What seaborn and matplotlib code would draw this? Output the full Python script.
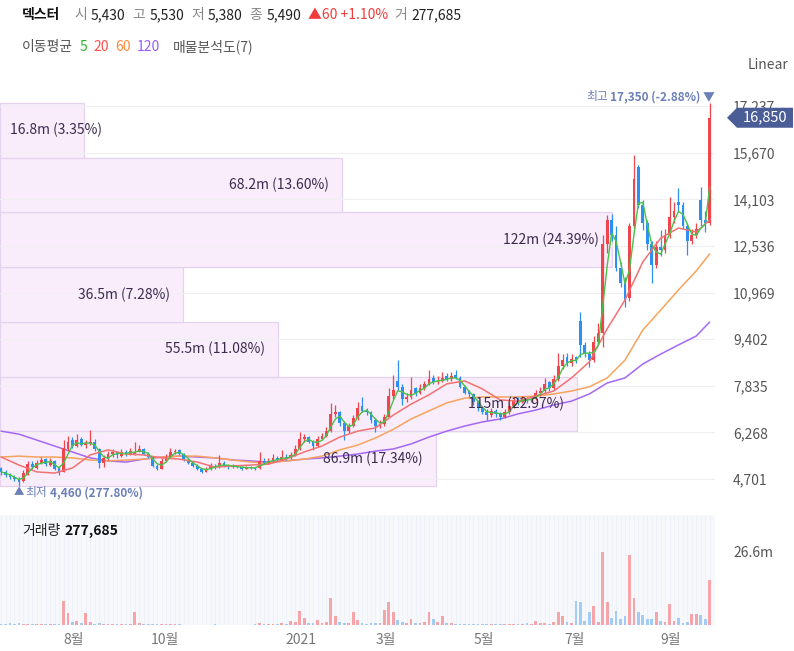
import numpy as np
import pandas as pd
import matplotlib
matplotlib.use('Agg')
import matplotlib.pyplot as plt
import matplotlib.transforms as mtransforms
from matplotlib.patches import Rectangle, Polygon
import seaborn as sns

# ---- header / legend text ----
STOCK_NAME = '덱스터'
HEADER_KEYS = ['시', '고', '저', '종']
HEADER_VALUES = ['5,430', '5,530', '5,380', '5,490']
HEADER_CHANGE = '▲60 +1.10%'
HEADER_VOL_KEY = '거'
HEADER_VOL = '277,685'
MA_TITLE = '이동평균'
MA_PERIODS = ['5', '20', '60', '120']
PROFILE_TITLE = '매물분석도(7)'
VOLUME_TITLE = '거래량'

# ---- trading calendar (KRX closed days) ----
START_DATE = '2020-06-17'
N_DAYS = 320
KR_HOLIDAYS = ['2020-08-17', '2020-09-30', '2020-10-01', '2020-10-02', '2020-10-09',
               '2020-12-25', '2020-12-31', '2021-01-01', '2021-02-11', '2021-02-12',
               '2021-03-01', '2021-05-05', '2021-05-19', '2021-08-16', '2021-09-20',
               '2021-09-21', '2021-09-22']
TICK_MONTHS = ['2020-08', '2020-10', '2021-01', '2021-03', '2021-05', '2021-07', '2021-09']

# ---- candles, one per two trading days ----
opens = [5070, 4950, 4830, 4760, 4700, 4620, 4850, 5220, 5080, 5230,
         5380, 5180, 5300, 5080, 4950, 5700, 6000, 5800, 6050, 5850,
         5900, 5950, 5700, 5250, 5380, 5550, 5620, 5480, 5620, 5530,
         5550, 5620, 5720, 5550, 5450, 5150, 5050, 5300, 5450, 5600,
         5680, 5550, 5350, 5250, 5150, 5050, 4950, 5050, 5150, 5100,
         5250, 5150, 5100, 5150, 5100, 5050, 5100, 5080, 5060, 5300,
         5250, 5300, 5400, 5350, 5450, 5400, 5500, 5700, 6050, 6100,
         5950, 5800, 6050, 6150, 6300, 6900, 6950, 6600, 6300, 6500,
         6750, 7150, 7000, 6950, 6700, 6500, 6550, 6800, 7500, 8000,
         7800, 7400, 7450, 7750, 7600, 7750, 7900, 8100, 7950, 8000,
         8150, 8050, 8200, 8100, 7800, 7650, 7550, 7300, 7100, 6950,
         6850, 7000, 6900, 6800, 6950, 7150, 7400, 7300, 7400, 7350,
         7400, 7600, 7650, 7950, 7750, 8050, 8500, 8800, 8600, 8800,
         10000, 9200, 8900, 8700, 9300, 9600, 12600, 13400, 12900, 11800,
         11300, 10800, 13200, 15200, 13900, 13300, 12600, 11900, 12500, 12400,
         12900, 13500, 14000, 13900, 13200, 12700, 12900, 14100, 13400, 13300]
highs = [5100, 5000, 4900, 4850, 4780, 5000, 5300, 5300, 5350, 5450,
         5420, 5400, 5330, 5100, 6000, 6150, 6100, 6200, 6100, 6000,
         6350, 6050, 5750, 5500, 5650, 5700, 5650, 5700, 5680, 5750,
         5950, 5850, 5750, 5600, 5480, 5200, 5400, 5550, 5740, 5720,
         5700, 5580, 5400, 5300, 5200, 5080, 5100, 5250, 5200, 5510,
         5300, 5180, 5200, 5180, 5130, 5150, 5150, 5120, 5610, 5400,
         5400, 5550, 5480, 5680, 5550, 5600, 5850, 6280, 6200, 6150,
         6000, 6150, 6250, 6450, 7260, 7200, 7000, 6650, 6600, 6850,
         7300, 7460, 7100, 7000, 6750, 6700, 6900, 7760, 8200, 8700,
         7900, 7600, 8130, 7800, 7900, 8000, 8370, 8200, 8150, 8300,
         8250, 8300, 8350, 8150, 7850, 7700, 7600, 7350, 7150, 7050,
         7100, 7050, 6950, 7050, 7300, 7450, 7450, 7500, 7450, 7500,
         7700, 7800, 8100, 8000, 8200, 8940, 8900, 8950, 8900, 8850,
         10320, 9300, 9000, 9500, 9950, 12900, 13580, 13600, 13200, 12000,
         11500, 13310, 15600, 15250, 14100, 13400, 12700, 12700, 13070, 13100,
         14180, 14000, 14490, 14000, 13300, 13100, 13300, 14520, 13700, 17350]
lows = [4840, 4780, 4700, 4620, 4460, 4600, 4820, 5050, 5050, 5200,
        5150, 5150, 5000, 4830, 4930, 5650, 5750, 5780, 5800, 5750,
        5850, 5650, 5070, 5100, 5350, 5450, 5400, 5450, 5480, 5500,
        5500, 5600, 5500, 5400, 5100, 5000, 5030, 5280, 5420, 5550,
        5500, 5300, 5200, 5100, 5000, 4900, 4920, 5020, 5050, 5080,
        5100, 5050, 5070, 5060, 5000, 5030, 5040, 5000, 5050, 5200,
        5220, 5280, 5300, 5330, 5350, 5380, 5480, 5680, 5950, 5900,
        5680, 5780, 6000, 6100, 6280, 6800, 6500, 6010, 6250, 6450,
        6700, 6950, 6850, 6600, 6280, 6400, 6500, 6780, 7400, 7700,
        7190, 7300, 7400, 7500, 7550, 7700, 7850, 7900, 7900, 7950,
        8000, 8000, 8050, 7750, 7550, 7450, 7200, 7000, 6900, 6690,
        6800, 6800, 6690, 6750, 6900, 7100, 7200, 7250, 7250, 7300,
        7350, 7500, 7600, 7650, 7700, 8000, 8400, 8500, 8500, 8600,
        8800, 8800, 8470, 8650, 9200, 9140, 12300, 12700, 11700, 11160,
        10480, 10700, 13100, 13800, 13070, 12400, 11290, 11800, 12200, 12300,
        12800, 13300, 13700, 13100, 12230, 12600, 12800, 13200, 13000, 13250]
closes = [4950, 4820, 4760, 4700, 4600, 4900, 5200, 5100, 5250, 5350,
          5200, 5300, 5050, 4900, 5750, 5950, 5800, 6000, 5850, 5900,
          5950, 5700, 5250, 5400, 5550, 5600, 5500, 5600, 5550, 5650,
          5600, 5700, 5550, 5450, 5150, 5050, 5300, 5450, 5600, 5650,
          5550, 5350, 5250, 5150, 5050, 4950, 5050, 5150, 5100, 5250,
          5150, 5100, 5150, 5100, 5050, 5100, 5080, 5050, 5300, 5250,
          5300, 5400, 5350, 5450, 5400, 5500, 5700, 6050, 6100, 5950,
          5800, 6050, 6150, 6300, 6900, 6950, 6600, 6300, 6500, 6750,
          7100, 7000, 6950, 6700, 6500, 6550, 6800, 7500, 7700, 7800,
          7400, 7450, 7700, 7600, 7750, 7900, 8050, 7950, 8000, 8100,
          8050, 8150, 8100, 7800, 7600, 7550, 7300, 7100, 6950, 6850,
          7000, 6900, 6800, 6950, 7150, 7350, 7300, 7400, 7350, 7400,
          7600, 7650, 7900, 7750, 8050, 8500, 8700, 8600, 8750, 8700,
          9200, 8900, 8700, 9300, 9600, 12600, 13400, 12900, 11800, 11300,
          10700, 13200, 14800, 13900, 13300, 12600, 11900, 12500, 12400, 12900,
          13500, 13700, 13900, 13200, 12700, 12900, 13100, 13400, 13300, 16850]
# volume in millions of shares
volumes = [0.3, 0.5, 0.6, 0.4, 0.6, 0.5, 0.4, 0.3, 0.2, 0.3,
           0.2, 0.3, 0.2, 0.4, 8.9, 4.3, 1.2, 1.3, 0.6, 4.3,
           1.0, 0.5, 0.7, 0.4, 0.2, 0.2, 0.3, 0.4, 0.3, 0.4,
           4.7, 0.8, 0.3, 0.3, 0.4, 0.3, 0.3, 0.2, 0.3, 0.2,
           0.2, 0.1, 0.1, 0.1, 0.1, 0.1, 0.1, 0.1, 0.3, 0.1,
           0.1, 0.1, 0.1, 0.1, 0.1, 0.1, 0.1, 0.2, 0.6, 0.3,
           0.5, 0.4, 0.3, 0.6, 0.5, 1.5, 1.0, 5.0, 2.5, 0.6,
           0.7, 1.9, 0.8, 1.0, 9.9, 3.1, 1.2, 0.8, 0.6, 4.6,
           1.9, 0.8, 0.5, 0.6, 0.9, 0.6, 5.3, 8.3, 4.6, 1.9,
           1.0, 0.8, 2.2, 0.6, 0.8, 1.2, 4.6, 2.2, 1.0, 3.1,
           0.8, 0.6, 0.5, 0.4, 0.3, 0.3, 0.4, 0.2, 0.3, 0.2,
           0.2, 0.5, 0.3, 0.2, 0.4, 0.3, 0.3, 0.5, 0.7, 0.4,
           1.5, 0.8, 0.6, 0.5, 1.0, 4.7, 3.1, 1.2, 0.8, 8.9,
           8.4, 1.5, 4.7, 6.8, 1.2, 26.6, 8.3, 2.5, 5.0, 2.2,
           3.1, 25.4, 9.9, 4.7, 3.7, 2.2, 2.2, 4.6, 1.5, 1.2,
           7.7, 1.5, 2.7, 0.8, 1.2, 4.1, 4.1, 3.7, 2.2, 16.5]

# ---- moving averages, every 4th candle plus the last ----
MA_SAMPLE_STEP = 4
ma20 = [5440, 5170, 4940, 4900, 5070, 5510, 5680, 5540, 5510, 5410,
        5370, 5270, 5100, 5140, 5170, 5200, 5370, 5610, 5810, 6110,
        6310, 6420, 6850, 7220, 7530, 7900, 8000, 7730, 7360, 7320,
        7490, 7660, 8100, 8640, 9750, 10720, 12000, 12800, 13140, 13010, 13410]
ma60 = [5440, 5470, 5440, 5440, 5410, 5340, 5310, 5340, 5370, 5440,
        5470, 5470, 5410, 5340, 5270, 5240, 5310, 5370, 5470, 5680,
        5840, 6080, 6370, 6720, 6990, 7260, 7420, 7460, 7460, 7460,
        7490, 7560, 7660, 7800, 8100, 8700, 9710, 10380, 11060, 11700, 12270]
ma120 = [6310, 6210, 6010, 5810, 5610, 5410, 5310, 5270, 5370, 5440,
         5470, 5440, 5410, 5340, 5310, 5270, 5310, 5370, 5410, 5470,
         5540, 5640, 5710, 5880, 6110, 6310, 6480, 6620, 6720, 6890,
         7020, 7190, 7320, 7560, 7930, 8100, 8570, 8900, 9210, 9510, 9980]

# ---- volume profile (7 price bands, bottom to top) ----
profile_vol = [86.9, 115, 55.5, 36.5, 122, 68.2, 16.8]
profile_pct = [17.34, 22.97, 11.08, 7.28, 24.39, 13.60, 3.35]

PRICE_TICKS = [4701, 6268, 7835, 9402, 10969, 12536, 14103, 15670, 17237]
VOLUME_TICKS = [26.6]

# colours
UP, DOWN = '#f0454d', '#2d8ff0'
UP_VOL, DOWN_VOL = '#f5a5aa', '#a2ccf5'
MA_COLORS = ['#48c248', '#f27272', '#f7a35c', '#a468f2']
LEGEND_COLORS = ['#2fb82f', '#ff4d4d', '#ff8a3d', '#9a5cf5']
MARK_BLUE = '#6b7fb8'

sns.set_theme(style='white')
plt.rcParams['font.family'] = ['Noto Sans CJK KR', 'DejaVu Sans']
plt.rcParams['axes.unicode_minus'] = False

W, H = 794, 651
fig = plt.figure(figsize=(W / 100, H / 100), dpi=100, facecolor='white')


def fx(px):
    return px / W


def fy(py):
    return 1 - py / H


ax = fig.add_axes([0, fy(490), fx(715), (490 - 85) / H])
axv = fig.add_axes([0, fy(625), fx(715), (625 - 515) / H])

o, h, l, c = (np.array(a, dtype=float) for a in (opens, highs, lows, closes))
vol = np.array(volumes)
x = np.arange(len(c))
up = c >= o

days = pd.bdate_range(START_DATE, periods=N_DAYS, freq='C', holidays=KR_HOLIDAYS)
tick_pos, tick_lab = [], []
for m in TICK_MONTHS:
    d = days.searchsorted(pd.Timestamp(m + '-01'))
    tick_pos.append((d - 0.5) / 2)
    ts = days[d]
    tick_lab.append(str(ts.year) if ts.month == 1 else f'{ts.month}월')

xlim = (-0.25, 160.2)

# ---------------- price panel ----------------
ax.set_xlim(*xlim)
ax.set_ylim(4331, 17951)
for t in PRICE_TICKS:
    ax.axhline(t, color='#efeff2', lw=0.8, zorder=0.8)

# volume profile bands
band_trans = mtransforms.blended_transform_factory(ax.transAxes, ax.transData)
edges = np.linspace(l.min(), h.max(), len(profile_vol) + 1)
vmax = max(profile_vol)
band_texts = []
for i, (v, p) in enumerate(zip(profile_vol, profile_pct)):
    frac = v / vmax * 0.856
    ax.add_patch(Rectangle((0, edges[i]), frac, edges[i + 1] - edges[i], transform=band_trans,
                           facecolor='#f9edfb', edgecolor='#e5d2ee', lw=0.9, zorder=0.5))
    mid = (edges[i] + edges[i + 1]) / 2
    ann = ax.annotate(f'{v:g}m ({p:.2f}%)', xy=(frac, mid), xycoords=band_trans,
                      xytext=(-9.5, 0), textcoords='offset points', ha='right', va='center',
                      fontsize=10, color='#3b2c4e', zorder=6, annotation_clip=False)
    band_texts.append((ann, mid))

# moving averages
ma5 = pd.Series(c).rolling(3, min_periods=1).mean()
ma_x = np.r_[np.arange(0, len(c), MA_SAMPLE_STEP), len(c) - 1]
sns.lineplot(x=ma_x, y=ma120, ax=ax, color=MA_COLORS[3], linewidth=1.1, zorder=2)
sns.lineplot(x=ma_x, y=ma60, ax=ax, color=MA_COLORS[2], linewidth=1.1, zorder=2)

# candles
col = np.where(up, UP, DOWN)
ax.vlines(x, l, h, colors=col, lw=0.9, zorder=3)
ax.bar(x, np.maximum(np.abs(c - o), 25), bottom=np.minimum(o, c), width=0.62,
       color=col, linewidth=0, zorder=3)

sns.lineplot(x=ma_x, y=ma20, ax=ax, color=MA_COLORS[1], linewidth=1.1, zorder=4)
sns.lineplot(x=x, y=ma5, ax=ax, color=MA_COLORS[0], linewidth=1.0, zorder=4)

ax.yaxis.tick_right()
ax.set_yticks(PRICE_TICKS, labels=[f'{t:,}' for t in PRICE_TICKS])
ax.set_xticks([])
ax.tick_params(axis='y', length=0, pad=13, labelsize=10, labelcolor='#555555')
for s in ax.spines.values():
    s.set_visible(False)
ax.set_facecolor('none')

# highest / lowest markers
hi_i, lo_i = int(np.argmax(h)), int(np.argmin(l))
last = c[-1]
hi_txt = ax.annotate(f'{h[hi_i]:,.0f} ({(last / h[hi_i] - 1) * 100:.2f}%) ▼', xy=(hi_i, h[hi_i]),
                     xytext=(4, 0), textcoords='offset points', ha='right', va='bottom',
                     fontsize=8.5, fontweight='bold', color=MARK_BLUE, annotation_clip=False)
ax.annotate('최고', xy=(0, 0.5), xycoords=hi_txt, xytext=(-2, 0), textcoords='offset points',
            ha='right', va='center', fontsize=8.5, color=MARK_BLUE)
lo_tri = ax.annotate('▲', xy=(lo_i, l[lo_i]), xytext=(-3.6, -1), textcoords='offset points',
                     ha='left', va='top', fontsize=7.5, color=MARK_BLUE, annotation_clip=False)
lo_key = ax.annotate('최저', xy=(1, 0.5), xycoords=lo_tri, xytext=(0.5, 0), textcoords='offset points',
                     ha='left', va='center', fontsize=8.5, color=MARK_BLUE)
ax.annotate(f'{l[lo_i]:,.0f} ({(last / l[lo_i] - 1) * 100:.2f}%)', xy=(1, 0.5), xycoords=lo_key,
            xytext=(2.5, 0), textcoords='offset points', ha='left', va='center',
            fontsize=8.5, fontweight='bold', color=MARK_BLUE)

# ---------------- volume panel ----------------
axv.set_xlim(*xlim)
axv.set_ylim(0, 40)
axv.set_facecolor('#f7f8fc')
axv.vlines(x, 0, 40, color='#eef1f8', lw=0.6, zorder=0.5)
axv.bar(x, vol, width=0.62, color=np.where(up, UP_VOL, DOWN_VOL), linewidth=0, zorder=2)
axv.yaxis.tick_right()
axv.set_yticks(VOLUME_TICKS, labels=[f'{t:g}m' for t in VOLUME_TICKS])
axv.set_xticks(tick_pos, labels=tick_lab)
axv.tick_params(axis='y', length=0, pad=13, labelsize=10, labelcolor='#555555')
axv.tick_params(axis='x', length=0, pad=6, labelsize=10, labelcolor='#777777')
for s in axv.spines.values():
    s.set_visible(False)

# ---------------- text rows ----------------
renderer = fig.canvas.get_renderer()


def text_row(pieces, x_px, y_px):
    for s, color, weight, gap in pieces:
        t = fig.text(fx(x_px), fy(y_px), s, color=color, fontsize=10, fontweight=weight,
                     ha='left', va='center')
        x_px += t.get_window_extent(renderer).width + gap


header = [(STOCK_NAME, '#111111', 'bold', 14)]
for k, v in zip(HEADER_KEYS, HEADER_VALUES):
    header += [(k, '#888888', 'normal', 4), (v, '#222222', 'normal', 7)]
header += [(HEADER_CHANGE, '#f03c3c', 'normal', 6), (HEADER_VOL_KEY, '#888888', 'normal', 4),
           (HEADER_VOL, '#222222', 'normal', 0)]
text_row(header, 22, 15)

legend = [(MA_TITLE, '#555555', 'normal', 7)]
for i, (p, colr) in enumerate(zip(MA_PERIODS, LEGEND_COLORS)):
    legend.append((p, colr, 'normal', 13 if i == len(MA_PERIODS) - 1 else 6))
legend.append((PROFILE_TITLE, '#555555', 'normal', 0))
text_row(legend, 22, 47)

text_row([(VOLUME_TITLE, '#222222', 'normal', 4), (HEADER_VOL, '#111111', 'bold', 0)], 22, 531)
fig.text(fx(748), fy(65), 'Linear', fontsize=10, color='#555555', ha='left', va='center')

# band labels that would not fit start at the left edge instead
for ann, mid in band_texts:
    if ann.get_window_extent(renderer).x0 < 10:
        ann.xy = (0, mid)
        ann.set_position((7, 0))
        ann.set_ha('left')

# last price tag
y_tag = ax.transData.transform((0, last))[1]
verts = [(727, y_tag), (737, y_tag + 10), (793, y_tag + 10), (793, y_tag - 10), (737, y_tag - 10)]
fig.add_artist(Polygon(verts, closed=True, transform=mtransforms.IdentityTransform(),
                       facecolor='#4a5d96', edgecolor='none', zorder=10))
fig.text(fx(765), y_tag / H, f'{last:,.0f}', color='white', fontsize=10.5, ha='center',
         va='center', zorder=11)

fig.savefig('out.png', dpi=100, facecolor='white')
